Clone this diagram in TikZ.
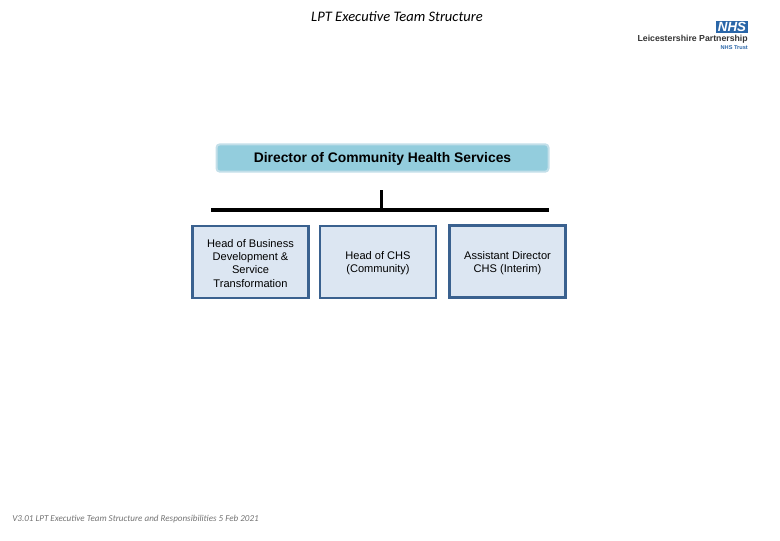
\documentclass[tikz,border=0pt]{standalone}
\usepackage{fontspec}
\setmainfont{Liberation Sans}
\newfontfamily\notefont{Carlito}
\usetikzlibrary{positioning}
\definecolor{headfill}{HTML}{93CDDD}
\definecolor{headline}{HTML}{C3DFE9}
\definecolor{unitfill}{HTML}{DCE6F2}
\definecolor{unitline}{HTML}{3A618F}
\definecolor{nhsblue}{HTML}{2A66A8}
\newcommand{\firstline}{\rule{0pt}{8pt}}
\tikzset{
  headbox/.style={draw=headline,line width=1.5pt,fill=headfill,rounded corners=2.5pt,
    minimum width=249pt,minimum height=20.5pt,inner sep=0pt,font=\bfseries\fontsize{10.4}{12}\selectfont,
    execute at begin node={\rule{0pt}{9.2pt}}},
  unitbox/.style={draw=unitline,line width=2.2pt,fill=unitfill,minimum width=87pt,
    minimum height=54pt,inner sep=0pt,align=center,font=\fontsize{8.3}{10}\selectfont},
  busline/.style={line width=2.3pt,black}
}
\begin{document}
\begin{tikzpicture}[x=0.75pt,y=-0.75pt]
  \useasboundingbox (0,0) rectangle (780,540);
  \node (title) at (397,17) {\notefont\itshape\fontsize{10.9}{12}\selectfont LPT Executive Team Structure};
  % logo
  \node[fill=nhsblue,text=white,minimum width=24pt,minimum height=9pt,inner sep=0pt,
    font=\bfseries\itshape\fontsize{10}{10}\selectfont] (nhs) at (732,26.5) {NHS};
  \node[anchor=east,inner sep=0pt,font=\bfseries\fontsize{6.55}{8}\selectfont,text=black!80] (trustname) at (748,39) {Leicestershire Partnership};
  \node[anchor=east,inner sep=0pt,font=\bfseries\fontsize{4.2}{5}\selectfont,text=nhsblue] (trustline) at (748,47.5) {NHS Trust};
  % boxes
  \node[headbox] (director) at (382.5,158) {Director of Community Health Services};
  \node[unitbox] (business) at (250.5,262) {\firstline Head of Business\\Development \&\\Service\\Transformation};
  \node[unitbox] (community) at (378,262) {\firstline Head of CHS\\(Community)};
  \node[unitbox] (interim) at (507.5,261.5) {\firstline Assistant Director\\CHS (Interim)};
  % connectors
  \coordinate (stemtop) at (381.5,190);
  \coordinate (stemfoot) at (381.5,210);
  \coordinate (busleft) at (211,210);
  \coordinate (busright) at (549,210);
  \draw[busline] (busleft) -- (busright);
  \draw[busline] (stemtop) -- (stemfoot);
  \node[anchor=west,inner sep=0pt,text=black!55] (footer) at (12,519)
    {\notefont\itshape\fontsize{6.8}{8}\selectfont V3.01 LPT Executive Team Structure and Responsibilities 5 Feb 2021};
\end{tikzpicture}
\end{document}
